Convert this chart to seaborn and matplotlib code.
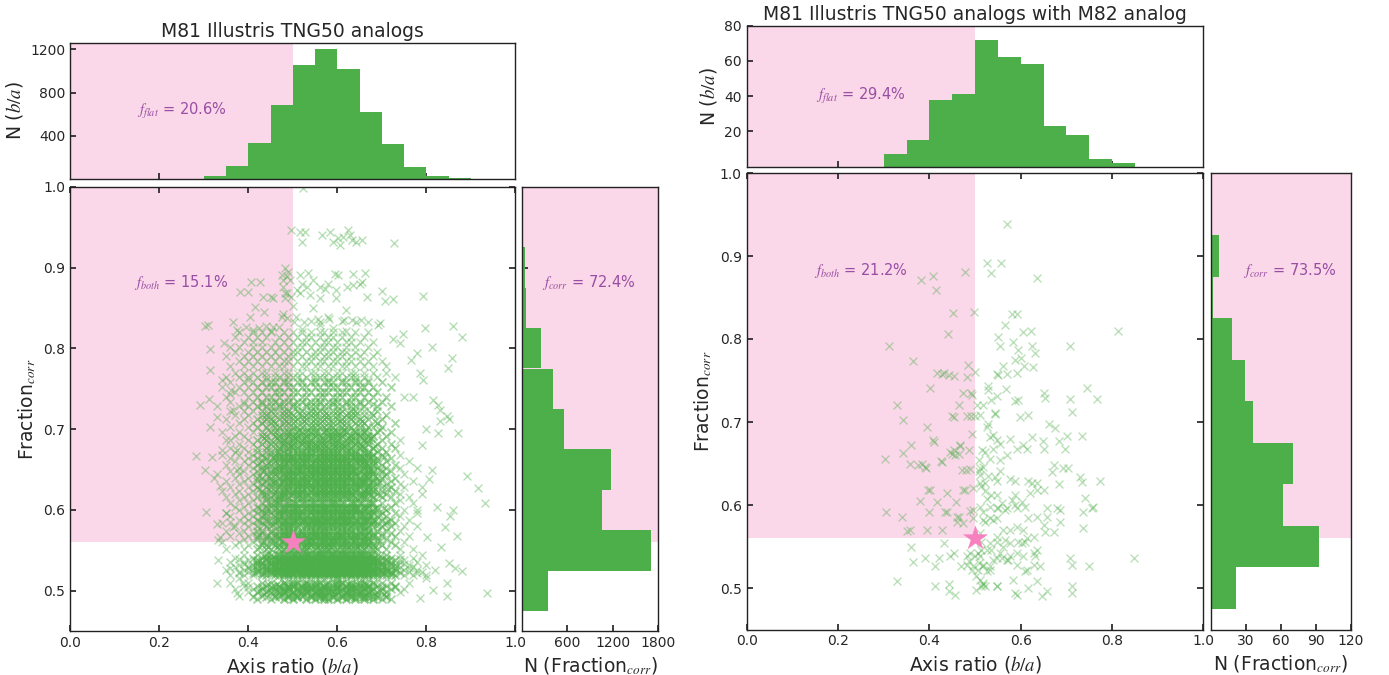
import numpy as np
import matplotlib
matplotlib.use("Agg")
import matplotlib.pyplot as plt
import seaborn as sns

# ---------------- data ----------------
# marginal histograms, left panel (all TNG50 analogs)
ba_edges_L = [0.30, 0.35, 0.40, 0.45, 0.50, 0.55, 0.60, 0.65, 0.70, 0.75, 0.80, 0.85, 0.90]
ba_counts_L = [31, 126, 334, 687, 1051, 1198, 1015, 619, 325, 113, 31, 12]
fc_edges_L = [0.475, 0.525, 0.575, 0.625, 0.675, 0.725, 0.775, 0.825, 0.875, 0.925, 0.975]
fc_counts_L = [342, 1699, 1053, 1172, 557, 408, 255, 53, 40, 22]

# marginal histograms, right panel (analogs with M82 analog)
ba_edges_R = [0.30, 0.35, 0.40, 0.45, 0.50, 0.55, 0.60, 0.65, 0.70, 0.75, 0.80, 0.85]
ba_counts_R = [7, 15, 38, 41, 72, 62, 58, 23, 18, 4, 2]
fc_edges_R = [0.475, 0.525, 0.575, 0.625, 0.675, 0.725, 0.775, 0.825, 0.875, 0.925, 0.975]
fc_counts_R = [22, 93, 62, 70, 36, 29, 18, 2, 7, 1]

# annotations
f_flat = ["20.6%", "29.4%"]
f_both = ["15.1%", "21.2%"]
f_corr = ["72.4%", "73.5%"]
titles = ["M81 Illustris TNG50 analogs", "M81 Illustris TNG50 analogs with M82 analog"]
m81_point = (0.5, 0.56)

# left scatter: dense rows (Fraction_corr value, axis ratios in hundredths)
left_row_y = [0.490, 0.492, 0.494, 0.498, 0.502, 0.504, 0.506, 0.510, 0.516,
              0.520, 0.5215, 0.523, 0.526, 0.5275, 0.529, 0.532, 0.5335, 0.535, 0.538, 0.5395, 0.541, 0.544,
              0.552, 0.556, 0.560, 0.564, 0.568, 0.5715, 0.5735,
              0.580, 0.584, 0.588, 0.592, 0.596, 0.600, 0.604, 0.608, 0.612,
              0.616, 0.620, 0.624, 0.628, 0.632, 0.636, 0.640, 0.644, 0.648, 0.652, 0.656, 0.660, 0.664, 0.668, 0.672,
              0.677, 0.682, 0.687, 0.692, 0.697, 0.702, 0.707, 0.712, 0.717, 0.722,
              0.728, 0.731, 0.734, 0.740, 0.746, 0.752, 0.758, 0.761, 0.764, 0.770,
              0.778, 0.784, 0.790, 0.796, 0.802, 0.808, 0.814, 0.820]
left_row_x = [
    "42 45 48 50 53 55 57 58 60 62 64 66 68 70 72",
    "41 44 46 49 51 54 56 57 59 61 63 64 66 67 69 71",
    "38 41 43 46 47 49 51 52 54 56 57 59 61 63 65 66 68 69 71",
    "40 42 44 45 47 48 50 52 53 55 56 58 59 60 62 63 65 67 69 71 74",
    "37 41 43 45 46 48 49 51 53 54 56 57 58 60 61 63 64 66 68 70 72 75",
    "40 43 45 47 49 50 52 53 55 57 58 60 62 63 64 66 67 70 73",
    "39 42 44 46 47 49 50 52 54 55 57 59 60 62 63 65 67 69 71 73",
    "36 40 43 45 48 50 51 53 55 56 58 60 61 63 65 66 68 70 72 76",
    "38 60 80",
    "36 39 41 43 44 46 47 48 49 50 51 52 53 54 55 56 57 58 59 60 61 62 63 64 65 66 67 68 69 70 71 72 73 75 77 80",
    "38 41 43 45 46 48 49 50 52 53 54 55 56 57 58 59 60 61 62 63 64 65 66 67 68 69 70 72 74 78",
    "38 40 42 44 45 47 48 49 51 52 53 54 55 56 57 58 59 59 60 61 62 63 64 65 66 67 68 69 70 71 72 74 76 79",
    "35 39 41 42 44 45 46 47 48 50 51 52 53 54 55 55 56 57 58 59 60 61 62 62 63 64 65 66 67 68 70 71 73 75 78 82",
    "36 40 42 44 45 46 47 49 50 51 52 53 54 55 56 57 58 59 60 61 62 63 64 65 66 67 68 69 71 73 76",
    "37 40 43 44 46 47 48 49 50 51 52 53 54 56 57 58 58 59 60 61 62 63 64 65 66 67 68 69 70 72 74 77",
    "38 41 42 44 45 46 48 49 50 51 52 53 54 55 56 57 57 58 59 60 61 62 63 64 65 66 67 69 70 71 73 76 80",
    "39 42 43 45 47 48 49 50 51 52 53 54 55 56 57 58 59 60 61 62 63 64 65 66 67 68 70 72 75",
    "36 39 42 43 45 46 47 48 49 50 51 52 53 54 55 56 57 58 59 60 60 61 62 63 64 65 66 68 69 70 72 74 78",
    "40 42 44 45 47 48 49 50 51 52 53 54 55 56 57 58 59 60 61 62 63 64 65 66 67 68 69 71 73 75",
    "38 41 44 45 46 47 49 50 51 52 53 54 55 56 57 58 59 60 61 62 63 64 65 66 68 69 71 74",
    "37 41 43 44 46 47 48 50 51 52 53 54 55 56 56 57 58 59 60 61 62 63 64 65 66 67 68 70 72 77",
    "39 42 44 45 47 48 49 50 52 53 54 55 56 57 58 59 60 61 62 63 64 65 66 67 69 71 74 79",
    "35 39 42 44 45 47 48 50 51 52 53 55 56 57 58 59 60 61 62 63 64 65 66 68 69 71 74 77",
    "37 40 43 44 46 47 49 50 51 53 54 55 56 57 58 59 61 62 63 64 65 67 68 70 73",
    "34 38 41 43 45 46 48 49 50 52 53 54 55 56 57 58 59 60 61 62 64 65 66 67 69 72 75",
    "39 42 44 45 47 48 50 51 52 53 54 56 57 58 59 60 61 62 63 64 66 67 69 71",
    "36 40 42 44 46 47 48 49 51 52 53 54 55 56 57 58 59 60 61 63 64 65 66 68 70 73 76",
    "38 41 43 45 46 48 49 50 51 52 54 55 56 57 58 60 61 62 63 64 65 67 68 70 72",
    "35 39 42 43 45 47 48 49 50 52 53 54 55 56 57 58 59 60 61 62 63 65 66 67 69 71 74",
    "37 40 42 44 45 47 48 49 50 51 53 54 55 56 57 58 59 60 61 62 63 64 65 66 67 69 70 72 75 78",
    "34 39 41 43 45 46 48 49 50 52 53 54 55 56 57 58 59 60 61 62 64 65 66 68 69 71 73",
    "38 40 42 44 46 47 48 50 51 52 53 54 55 56 57 58 59 60 61 62 63 64 66 67 68 70 72 76",
    "36 39 41 43 44 46 47 49 50 51 52 53 55 56 57 58 59 60 61 62 63 65 66 67 69 71 74",
    "35 40 42 44 45 47 48 49 50 51 52 54 55 56 57 58 59 60 61 62 63 64 65 67 68 70 73 78",
    "38 41 43 44 46 47 48 50 51 52 53 54 55 56 57 58 59 60 61 62 63 64 65 66 68 69 71 75",
    "37 39 42 44 45 46 48 49 50 51 53 54 55 56 57 58 59 60 61 62 63 64 66 67 69 72",
    "36 40 43 45 46 47 49 50 51 52 53 54 55 56 57 58 59 60 61 63 64 65 67 68 70 73 77",
    "38 41 44 46 47 74",
    "35 39 42 44 45 47 48 49 51 52 53 54 55 56 57 58 59 60 61 62 63 64 65 66 68 70 72 76",
    "37 40 43 44 46 47 48 50 51 52 53 55 56 57 58 59 60 61 62 63 65 66 67 69 71 74",
    "34 38 41 43 45 46 48 49 50 51 52 54 55 56 57 58 59 60 61 62 63 64 66 67 68 70 73",
    "36 40 42 44 45 47 48 49 51 52 53 54 55 56 57 58 59 60 61 62 63 64 65 67 68 70 72 75 79",
    "38 41 43 45 46 47 49 50 51 52 53 54 55 56 57 58 59 60 61 62 64 65 66 67 69 71 74",
    "35 39 42 44 45 46 48 49 50 51 52 53 55 56 57 58 59 60 61 62 63 64 65 66 68 69 72 77",
    "37 40 42 43 45 47 48 49 50 52 53 54 55 56 57 58 59 60 61 62 63 65 66 67 69 70 73",
    "33 38 41 44 45 46 48 49 50 51 52 53 54 55 56 57 58 59 60 61 62 63 64 66 67 68 71 75",
    "36 39 42 43 45 46 47 49 50 51 52 54 55 56 57 58 59 60 61 62 63 64 65 67 68 70 72",
    "38 41 43 44 46 47 48 49 51 52 53 54 55 56 57 58 59 60 61 62 63 64 66 67 69 71 74 78",
    "35 40 42 44 45 47 48 50 51 52 53 54 55 56 57 58 59 60 61 62 63 65 66 67 68 70 73",
    "37 39 41 43 45 46 48 49 50 51 52 53 55 56 57 58 59 60 61 62 63 64 65 66 68 69 71 76",
    "36 40 42 44 46 47 48 49 50 52 53 54 55 56 57 58 59 60 61 62 64 65 66 67 69 72",
    "34 38 41 43 45 46 47 49 50 51 52 53 54 56 57 58 59 60 61 62 63 64 65 67 68 70 74",
    "37 40 42 44 45 47 48 49 51 52 53 54 55 56 57 58 59 60 62 63 64 66 67 69 71",
    "36 39 42 44 46 47 49 50 51 53 54 55 56 57 58 59 60 61 62 63 65 66 68 70 73",
    "38 41 43 45 46 48 49 50 52 53 54 55 56 57 59 60 61 62 64 65 67 69 72",
    "35 40 42 44 45 47 48 50 51 52 53 54 56 57 58 59 60 62 63 64 66 67 70 74",
    "37 39 43 44 46 47 49 50 51 53 55 56 58 59 60 61 63 64 65 67 68 71",
    "34 38 41 43 45 46 48 49 51 52 53 54 55 57 58 59 60 61 62 64 65 66 69 72",
    "36 40 42 44 46 47 48 50 51 52 54 55 56 57 58 59 61 62 63 65 67 68 70",
    "38 41 43 45 46 48 49 50 52 53 54 55 56 58 59 60 61 62 64 65 66 69 73",
    "35 39 42 44 45 47 48 50 51 52 53 55 56 57 58 60 61 62 63 65 67 70",
    "37 40 43 44 46 48 49 50 52 53 54 55 57 58 59 60 62 63 64 66 68 71",
    "36 39 41 43 45 46 48 49 51 52 54 55 56 57 59 60 61 63 64 66 69",
    "33 38 40 42 44 45 47 48 50 51 53 54 55 57 58 60 61 63 64 66 69 72",
    "39 43 47 50 53 56 59 62 65 68",
    "36 39 41 43 45 46 48 49 51 52 54 55 56 58 59 60 62 63 65 67 70",
    "35 40 42 44 45 47 49 50 52 53 55 56 57 59 60 61 63 64 66 68 71 75",
    "37 39 41 43 46 47 48 50 51 53 54 56 57 58 60 61 62 64 65 67 69",
    "34 38 40 42 44 45 47 49 50 52 53 55 56 58 59 60 62 63 65 66 68 72",
    "36 39 41 43 45 46 48 49 51 52 54 55 57 58 59 61 62 64 65 67 70",
    "40 44 48 52 55 58 61 64 67",
    "35 38 40 42 44 46 47 49 50 51 53 55 56 57 59 60 62 63 64 66 69 73",
    "37 39 41 43 44 46 48 49 51 52 54 55 57 58 60 61 63 64 66 68 71",
    "36 39 41 43 45 47 48 50 52 53 55 56 58 59 61 62 64 66 68 71",
    "38 40 42 44 46 48 49 51 53 54 56 57 59 60 62 63 65 67 70",
    "35 39 41 43 45 47 49 50 52 54 55 57 58 60 61 63 65 68",
    "37 40 42 44 46 48 50 51 53 55 56 58 59 61 62 64 66 69",
    "36 38 41 43 45 47 49 51 52 54 56 57 59 60 62 64 67",
    "39 41 43 46 48 50 52 53 55 57 58 60 62 63 65 68",
    "37 40 42 44 47 49 51 53 54 56 58 59 61 63 66",
    "38 41 43 45 48 50 52 54 56 57 59 61 64 67",
]

# left scatter: extra core rows (Fraction_corr value, axis ratios in thousandths)
left_half_y = [0.496, 0.500, 0.508,
               0.5225, 0.5245, 0.5305, 0.5365, 0.5425, 0.5455,
               0.554, 0.562, 0.5695, 0.582,
               0.586, 0.594, 0.602, 0.6085,
               0.618, 0.626, 0.634, 0.642, 0.650, 0.658, 0.666,
               0.6795, 0.6895, 0.6995, 0.7095, 0.7195]
left_half_x = [
    "435 455 475 495 505 525 545 555 575 595 615 625 645 665 685 705",
    "425 445 465 485 515 535 555 565 585 605 625 645 655 675 695",
    "445 465 485 505 525 535 555 575 595 605 625 645 665 685",
    "415 435 455 465 485 495 515 525 545 555 565 585 595 605 625 635 655 665 685 705 725",
    "425 445 465 475 495 505 525 535 555 575 585 595 615 625 645 655 675 695 715",
    "405 435 455 475 485 505 515 535 545 565 575 595 605 615 635 645 665 685 705 735",
    "425 445 465 485 495 515 525 545 555 575 585 605 615 635 645 665 675 695 715",
    "435 455 475 495 505 525 535 555 565 585 595 615 625 645 655 675 695",
    "445 465 485 505 515 535 555 565 585 605 615 635 655 675",
    "425 445 465 485 505 525 535 555 575 585 605 625 645 665 685",
    "435 455 475 495 515 535 545 565 585 595 615 635 655 675 695",
    "425 445 465 485 505 525 545 555 575 595 605 625 645 665 685",
    "435 455 475 495 515 535 555 565 585 605 625 635 655 675 705",
    "425 445 465 485 505 525 545 555 575 595 615 625 645 665 685 715",
    "435 455 475 495 515 535 545 565 585 605 615 635 655 675 695",
    "425 445 465 485 505 525 545 565 575 595 615 635 645 665 685 705",
    "445 465 485 505 525 545 565 585 595 615 635 655 675",
    "435 455 475 495 515 535 555 575 595 615 635 655 675 695",
    "425 445 465 485 505 525 545 565 585 605 625 645 665 685 715",
    "435 455 475 495 515 535 555 575 595 615 635 655 675 695",
    "425 445 465 485 505 525 545 565 585 605 625 645 665 685 705",
    "435 455 475 495 515 535 555 575 595 615 635 655 675 695",
    "425 445 465 485 505 525 545 565 585 605 625 645 665 685",
    "435 455 475 495 515 535 555 575 595 615 635 655 675 705",
    "445 475 495 515 535 555 575 595 615 635 655 685",
    "435 465 485 505 525 545 565 585 605 625 655 675",
    "445 465 495 515 535 555 575 595 615 635 665 695",
    "435 455 485 505 525 545 565 585 605 635 655 685",
    "445 475 495 515 535 555 575 605 625 645 675",
]

# left scatter: sparse points (axis ratio, Fraction_corr) in thousandths
left_sparse = (
    "522,998 497,946 516,944 527,944 520,931 565,940 583,944 591,932 602,936 606,928 "
    "613,938 625,947 629,940 632,934 643,932 655,934 728,930 "
    "482,899 475,891 478,884 486,889 494,884 516,891 535,893 520,880 531,876 561,876 "
    "572,874 595,892 602,891 636,892 662,893 598,872 621,876 636,878 651,880 655,882 "
    "666,864 700,871 707,859 726,861 792,865 539,866 561,862 598,862 509,872 497,864 "
    "482,868 516,868 478,876 482,862 407,882 381,870 434,863 452,863 456,862 486,868 "
    "427,882 400,870 490,895 545,884 580,880 "
    "415,851 404,839 475,839 479,843 366,832 374,823 303,827 310,829 411,823 425,825 "
    "440,827 452,822 456,826 488,838 503,832 508,839 526,832 541,834 557,836 560,832 "
    "578,839 582,836 611,834 614,835 632,835 643,833 654,835 669,832 692,829 696,831 "
    "797,825 861,827 880,814 748,818 726,812 741,806 560,829 590,825 620,822 520,824 "
    "470,826 395,826 435,845 620,848 545,850 500,852 "
    "282,667 291,730 313,799 313,773 312,737 315,702 303,649 304,597 318,666 322,640 "
    "329,583 333,563 336,629 345,806 340,761 333,538 329,510 329,715 340,674 359,744 "
    "362,748 359,686 366,724 375,674 374,649 351,596 359,585 336,567 366,579 374,497 389,509 "
    "827,730 846,716 850,712 831,710 827,695 872,695 891,642 917,627 933,609 805,638 "
    "823,604 861,600 853,592 842,579 868,568 834,554 801,566 850,534 864,528 880,524 "
    "846,510 816,501 936,497 846,493 786,491 812,801 857,788 849,776 766,785 778,794 "
    "786,769 793,761 771,740 816,736 831,724 812,650 790,680 800,700 780,600 790,620"
)

# right scatter: all points (axis ratio, Fraction_corr) in thousandths
right_points = (
    "303,655 304,591 312,792 330,720 330,508 343,702 342,663 350,569 357,650 359,672 "
    "360,549 364,531 365,774 380,605 381,871 383,649 391,646 393,644 391,536 394,570 "
    "398,618 400,591 401,741 408,876 409,678 411,676 415,859 416,759 412,526 413,502 "
    "420,536 426,653 427,570 431,554 432,759 438,614 439,592 442,757 442,505 444,496 "
    "445,538 449,662 451,831 453,542 453,755 453,706 454,666 456,660 459,604 456,492 "
    "460,586 460,580 464,721 466,671 469,526 474,735 478,618 480,642 482,528 485,769 "
    "482,754 486,666 489,593 491,735 489,643 491,707 493,686 496,584 500,760 500,707 "
    "497,833 496,620 500,538 495,594 478,881 502,498 501,514 507,542 "
    "394,694 445,664 464,662 467,672 482,707 449,707 493,733 376,648 427,652 471,642 "
    "401,618 474,618 416,604 434,592 464,586 339,586 358,570 474,578 "
    "526,891 535,879 556,891 569,939 566,817 551,803 555,792 562,767 551,757 529,739 "
    "536,727 518,720 543,710 526,694 533,682 540,684 515,666 522,664 547,678 533,656 "
    "518,646 511,636 522,626 543,634 547,612 533,598 558,602 518,582 540,582 566,594 "
    "511,566 547,562 566,558 536,546 558,536 518,528 533,526 507,522 517,504 522,502 "
    "547,502 573,534 "
    "635,874 581,830 592,830 605,809 622,810 814,810 440,806 583,796 624,792 707,791 "
    "595,787 632,783 587,775 600,777 607,767 626,766 549,758 570,758 591,759 427,758 "
    "529,743 549,731 567,740 595,727 650,735 708,728 766,728 745,741 "
    "588,725 653,729 712,712 617,708 599,706 544,711 529,697 511,709 504,721 661,697 "
    "675,693 577,680 555,673 540,667 591,668 606,672 613,668 624,682 648,677 650,668 "
    "683,677 697,667 701,683 734,683 508,654 569,660 555,654 672,648 693,645 704,645 "
    "511,645 508,641 529,635 547,629 555,641 577,631 588,629 617,629 624,627 635,627 "
    "730,634 734,628 774,629 668,640 511,627 514,623 522,617 536,612 526,607 588,612 "
    "580,606 602,604 620,614 635,618 650,618 741,608 683,625 511,598 518,592 547,596 "
    "551,596 569,596 588,600 591,596 609,598 617,584 635,586 657,596 679,596 686,594 "
    "657,586 737,592 755,596 759,598 522,580 533,584 547,584 562,570 577,570 591,574 "
    "606,570 613,560 628,562 650,576 653,568 672,568 686,579 737,572 547,556 562,550 "
    "577,554 595,556 602,554 609,556 514,556 533,554 514,546 628,542 635,546 631,538 "
    "591,542 577,538 606,538 489,542 511,538 526,546 547,536 540,534 555,542 569,534 "
    "591,528 613,522 609,520 628,528 642,526 508,530 518,526 533,522 526,520 708,536 "
    "712,528 749,526 847,536 511,510 518,506 514,502 547,502 584,510 617,500 635,508 "
    "657,496 591,492 588,494 646,490 712,502 712,494 486,532 482,538 493,522 496,526"
)

# ---------------- assemble arrays ----------------
assert len(left_row_y) == len(left_row_x)
assert len(left_half_y) == len(left_half_x)
lx, ly = [], []
for yv, row in zip(left_row_y, left_row_x):
    for v in row.split():
        lx.append(int(v) / 100.0)
        ly.append(yv)
for yv, row in zip(left_half_y, left_half_x):
    for v in row.split():
        lx.append(int(v) / 1000.0)
        ly.append(yv)
for pair in left_sparse.split():
    a, b = pair.split(",")
    lx.append(int(a) / 1000.0)
    ly.append(int(b) / 1000.0)
lx = np.array(lx)
ly = np.array(ly)
# how strongly markers pile up: inner core, shoulder, periphery
inner = (lx >= 0.47) & (lx <= 0.68) & (ly <= 0.70)
shoulder = (lx >= 0.42) & (lx <= 0.73) & (ly <= 0.76) & ~inner
outer = ~(inner | shoulder)

rx, ry = [], []
for pair in right_points.split():
    a, b = pair.split(",")
    rx.append(int(a) / 1000.0)
    ry.append(int(b) / 1000.0)

# ---------------- style ----------------
sns.set_theme(style="ticks")
plt.rcParams["font.family"] = ["DejaVu Sans"]
plt.rcParams["mathtext.fontset"] = "stix"
plt.rcParams["axes.linewidth"] = 1.0
plt.rcParams["axes.edgecolor"] = "#222222"

GREEN = "#4DAF4A"
PINK_BG = "#FAD7E9"
STAR = "#F781BF"
PURPLE = "#984EA3"
TICK_FS = 10
LABEL_FS = 13.5
ANN_FS = 10.5
MS = 32

W, H = 1389, 675
fig = plt.figure(figsize=(W / 100, H / 100), dpi=100)


def rect(l, r, t, b):
    return [l / W, (H - b) / H, (r - l) / W, (b - t) / H]


panels = [
    dict(top=rect(70.3, 515.3, 42.7, 179.3), sc=rect(70.3, 515.3, 186.7, 631.1),
         rh=rect(521.7, 658.3, 186.7, 631.1),
         ba_e=ba_edges_L, ba_c=ba_counts_L, fc_e=fc_edges_L, fc_c=fc_counts_L,
         layers=[(lx[outer], ly[outer], 0.40, 1.0),
                 (lx[shoulder], ly[shoulder], 0.50, 1.3),
                 (lx[inner], ly[inner], 0.60, 1.7)],
         ytop=(0, 1260), yticks_top=[400, 800, 1200],
         xr=(0, 1800), xticks_r=[600, 1200, 1800], corr_x=0.495),
    dict(top=rect(746.7, 1203.4, 25.7, 166.5), sc=rect(746.7, 1203.4, 173.0, 629.5),
         rh=rect(1210.7, 1351.0, 173.0, 629.5),
         ba_e=ba_edges_R, ba_c=ba_counts_R, fc_e=fc_edges_R, fc_c=fc_counts_R,
         layers=[(np.array(rx), np.array(ry), 0.38, 1.0)],
         ytop=(0, 80), yticks_top=[20, 40, 60, 80],
         xr=(0, 120), xticks_r=[30, 60, 90, 120], corr_x=0.565),
]

for i, p in enumerate(panels):
    ax_t = fig.add_axes(p["top"])
    ax_s = fig.add_axes(p["sc"])
    ax_r = fig.add_axes(p["rh"])

    # ---- top histogram of axis ratio ----
    ax_t.axvspan(0, 0.5, color=PINK_BG, lw=0, zorder=0)
    ba_e = list(p["ba_e"])
    ba_centers = [0.5 * (a + b) for a, b in zip(ba_e[:-1], ba_e[1:])]
    sns.histplot(x=ba_centers, weights=list(p["ba_c"]), bins=ba_e, ax=ax_t, color=GREEN,
                 alpha=1, linewidth=0, edgecolor=None, zorder=2)
    ax_t.set_xlim(0, 1)
    ax_t.set_ylim(*p["ytop"])
    ax_t.set_yticks(p["yticks_top"])
    ax_t.set_xticks([0.2, 0.4, 0.6, 0.8])
    ax_t.tick_params(axis="x", labelbottom=False, direction="in", length=4)
    ax_t.tick_params(axis="y", direction="in", labelsize=TICK_FS, length=4)
    ax_t.set_xlabel("")
    ax_t.set_ylabel(r"N ($b/a$)", fontsize=LABEL_FS)
    ax_t.set_title(titles[i], fontsize=13.5, pad=4)
    ax_t.text(0.25, 0.5, r"$f_{flat}$ = " + f_flat[i], transform=ax_t.transAxes,
              ha="center", va="center", color=PURPLE, fontsize=ANN_FS, zorder=5)

    # ---- scatter ----
    ax_s.axhspan(0.56, 1.0, xmin=0, xmax=0.5, color=PINK_BG, lw=0, zorder=0)
    for xs, ys, al, lw in p["layers"]:
        sns.scatterplot(x=xs, y=ys, ax=ax_s, marker="x", color=GREEN,
                        alpha=al, s=MS, linewidth=lw, zorder=2, legend=False)
    sns.scatterplot(x=[m81_point[0]], y=[m81_point[1]], ax=ax_s, marker="*",
                    color=STAR, s=320, linewidth=0.3, edgecolor=STAR, zorder=4, legend=False)
    ax_s.set_xlim(0, 1)
    ax_s.set_ylim(0.45, 1.0)
    ax_s.set_xticks([0.0, 0.2, 0.4, 0.6, 0.8, 1.0])
    ax_s.set_yticks([0.5, 0.6, 0.7, 0.8, 0.9, 1.0])
    ax_s.tick_params(direction="in", top=True, right=True, labelsize=TICK_FS, length=4)
    ax_s.set_xlabel(r"Axis ratio ($b/a$)", fontsize=LABEL_FS)
    ax_s.set_ylabel(r"Fraction$_{corr}$", fontsize=LABEL_FS)
    ax_s.text(0.25, 0.882, r"$f_{both}$ = " + f_both[i], ha="center", va="center",
              color=PURPLE, fontsize=ANN_FS, zorder=5)

    # ---- right histogram of Fraction_corr ----
    ax_r.axhspan(0.56, 1.0, color=PINK_BG, lw=0, zorder=0)
    fc_e = list(p["fc_e"])
    fc_centers = [0.5 * (a + b) for a, b in zip(fc_e[:-1], fc_e[1:])]
    sns.histplot(y=fc_centers, weights=list(p["fc_c"]), bins=fc_e, ax=ax_r, color=GREEN,
                 alpha=1, linewidth=0, edgecolor=None, zorder=2)
    ax_r.set_ylim(0.45, 1.0)
    ax_r.set_xlim(*p["xr"])
    ax_r.set_xticks(p["xticks_r"])
    ax_r.set_yticks([0.5, 0.6, 0.7, 0.8, 0.9])
    ax_r.tick_params(axis="y", labelleft=False, direction="in", length=4)
    ax_r.tick_params(axis="x", direction="in", labelsize=TICK_FS, length=4)
    ax_r.set_ylabel("")
    ax_r.set_xlabel(r"N (Fraction$_{corr}$)", fontsize=LABEL_FS)
    ax_r.text(p["corr_x"], 0.882, r"$f_{corr}$ = " + f_corr[i],
              transform=ax_r.get_yaxis_transform(), ha="center", va="center",
              color=PURPLE, fontsize=ANN_FS, zorder=5)

fig.savefig("out.png", dpi=100)
